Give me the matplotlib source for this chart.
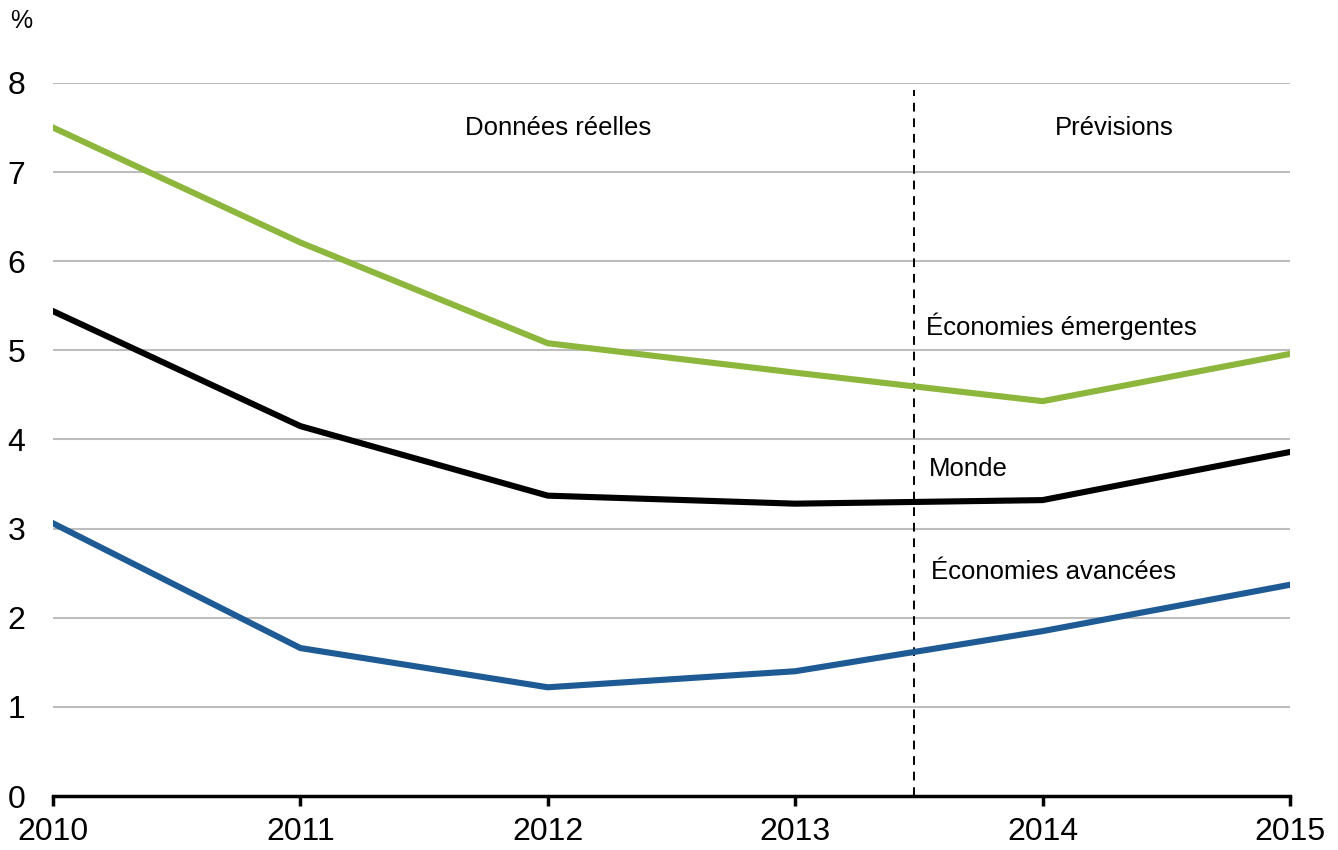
import matplotlib
matplotlib.use('Agg')
import matplotlib.pyplot as plt

plt.rcParams['font.family'] = ['Liberation Sans', 'DejaVu Sans']

years = [2010, 2011, 2012, 2013, 2014, 2015]
emergentes = [7.50, 6.21, 5.08, 4.75, 4.43, 4.96]
monde = [5.44, 4.15, 3.37, 3.28, 3.32, 3.86]
avancees = [3.06, 1.66, 1.22, 1.40, 1.85, 2.37]
forecast_split = 2013.48

fig = plt.figure(figsize=(13.38, 8.5), dpi=100)
ax = fig.add_axes([0.0396, 0.0635, 0.9245, 0.8389])

for v in range(1, 9):
    ax.axhline(v, color='#bdbdbd', linewidth=1.5, zorder=0)

ax.plot(years, emergentes, color='#8db63c', linewidth=4.4, zorder=3)
ax.plot(years, monde, color='#000000', linewidth=4.4, zorder=3)
ax.plot(years, avancees, color='#1e5b94', linewidth=4.4, zorder=3)

ax.axvline(forecast_split, ymin=0, ymax=0.99, color='black', linewidth=1.4,
           linestyle=(0, (4.5, 3.5)), zorder=2)

ax.set_xlim(2010, 2015)
ax.set_ylim(0, 8)
ax.set_xticks(years)
ax.set_yticks(range(0, 9))
ax.tick_params(axis='x', direction='out', length=7, width=2.5, labelsize=23, pad=8)
ax.tick_params(axis='y', length=0, labelsize=23, pad=20)
for s in ['top', 'right', 'left']:
    ax.spines[s].set_visible(False)
ax.spines['bottom'].set_linewidth(2.5)
ax.spines['bottom'].set_zorder(4)

ax.text(2012.04, 7.5, 'Données réelles', fontsize=18.5, ha='center', va='center')
ax.text(2014.29, 7.5, 'Prévisions', fontsize=18.5, ha='center', va='center')
ax.text(2013.53, 5.27, 'Économies émergentes', fontsize=18.5, ha='left', va='center')
ax.text(2013.54, 3.67, 'Monde', fontsize=18.5, ha='left', va='center')
ax.text(2013.55, 2.51, 'Économies avancées', fontsize=18.5, ha='left', va='center')

fig.text(0.0075, 0.975, '%', fontsize=18, ha='left', va='center')

fig.savefig('out.png', dpi=100)
